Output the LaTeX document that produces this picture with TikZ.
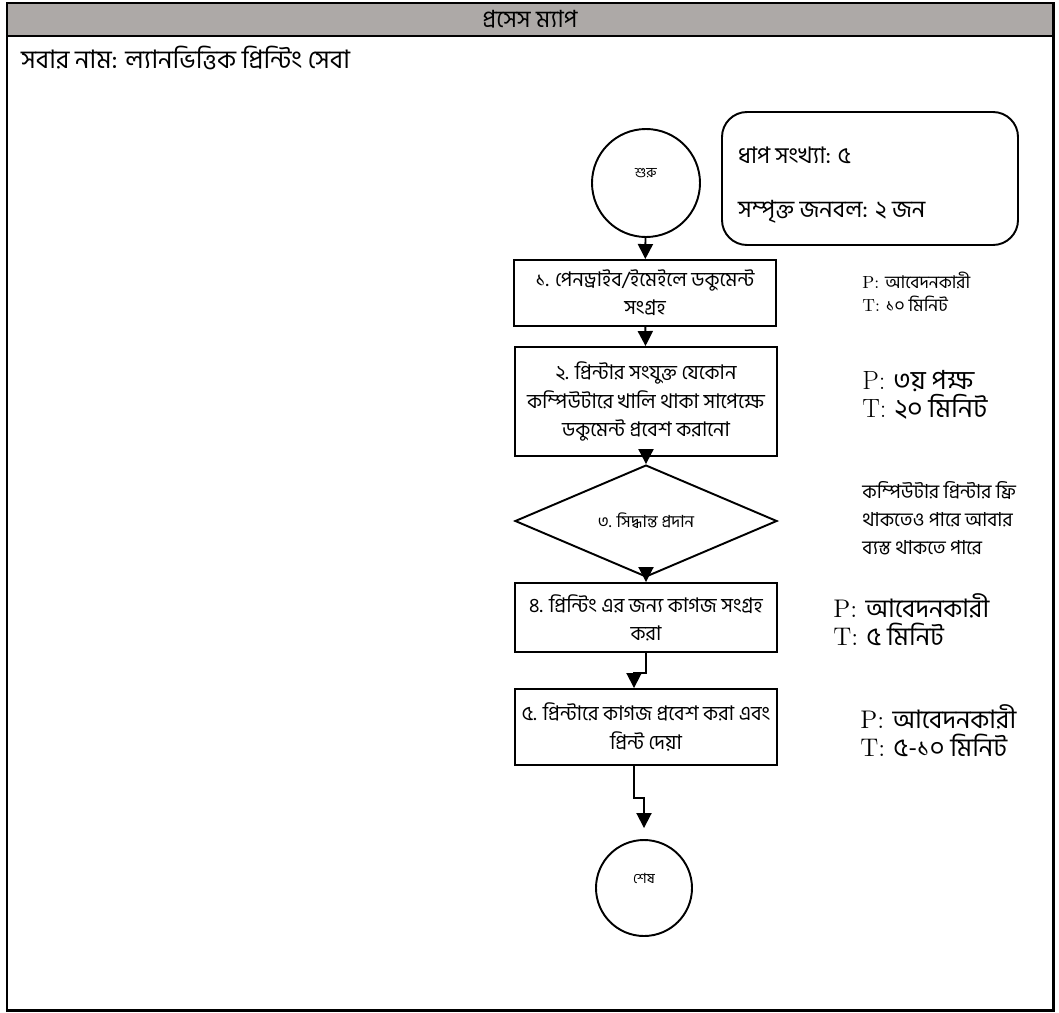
\documentclass[tikz,border=0pt]{standalone}
\usepackage{fontspec}
\newfontfamily\bn[Script=Bengali]{Hind Siliguri}
\usetikzlibrary{shapes.geometric,arrows.meta}
\definecolor{headgray}{HTML}{ADA9A7}
\tikzset{
  stepbox/.style={draw,line width=1.1pt,minimum width=5.24cm,align=center,
    font=\bn\fontsize{11.5}{16}\selectfont},
  endpt/.style={draw,circle,line width=1.1pt,inner sep=0pt,text depth=0.4cm,
    font=\bn\fontsize{8}{10}\selectfont},
  flow/.style={line width=1.1pt,-{Triangle[width=0.3cm,length=0.3cm]}},
  ptnote/.style={anchor=west,align=left,inner sep=0pt},
}
\begin{document}
\begin{tikzpicture}
\useasboundingbox (0,0) rectangle (21.18,-20.26);
% frame and header
\draw[line width=1.7pt,fill=headgray] (0.14,-0.06) rectangle (21.06,-0.72);
\draw[line width=1.7pt] (0.14,-0.06) rectangle (21.06,-20.2);
\node (head) at (10.6,-0.39) {\bn\fontsize{13.5}{15}\selectfont প্রসেস ম্যাপ};
\node[anchor=west] (serv) at (0.3,-1.16) {\bn\fontsize{14.5}{16}\selectfont সবার নাম: ল্যানভিত্তিক প্রিন্টিং সেবা};

% summary box
\draw[line width=1.1pt,rounded corners=0.5cm] (14.44,-2.24) rectangle (20.36,-4.9);
\node[anchor=west] (nstep) at (14.64,-3.1) {\bn\fontsize{13}{15}\selectfont ধাপ সংখ্যা: ৫};
\node[anchor=west] (nman) at (14.64,-4.24) {\bn\fontsize{13.5}{15}\selectfont সম্পৃক্ত জনবল: ২ জন};

% steps
\node[endpt,minimum size=2.16cm] (start) at (12.92,-3.66) {শুরু};
\node[stepbox,minimum height=1.32cm] (s1) at (12.9,-5.86) {১. পেনড্রাইব/ইমেইলে ডকুমেন্ট\\সংগ্রহ};
\node[stepbox,minimum height=2.18cm] (s2) at (12.92,-8.03) {২. প্রিন্টার সংযুক্ত যেকোন\\কম্পিউটারে খালি থাকা সাপেক্ষে\\ডকুমেন্ট প্রবেশ করানো};
\node[draw,diamond,line width=1.1pt,minimum width=5.24cm,minimum height=1.56cm,inner sep=0pt,
  font=\bn\fontsize{9.5}{11}\selectfont] (s3) at (12.92,-10.42) {৩. সিদ্ধান্ত প্রদান};
\node[stepbox,minimum height=1.38cm] (s4) at (12.92,-12.35) {৪. প্রিন্টিং এর জন্য কাগজ সংগ্রহ\\করা};
\node[stepbox,minimum height=1.52cm] (s5) at (12.92,-14.54) {৫. প্রিন্টারে কাগজ প্রবেশ করা এবং\\প্রিন্ট দেয়া};
\node[endpt,minimum size=1.92cm] (stop) at (12.88,-17.76) {শেষ};

\draw[flow] (start) -- (s1);
\draw[flow] (s1) -- (s2);
\draw[flow] (s2) -- (s3);
\draw[flow] (s3) -- (s4);
\draw[flow] (s4.south) -- ++(0,-0.4) -| ([xshift=-0.24cm]s5.north);
\draw[flow] ([xshift=-0.24cm]s5.south) -- ++(0,-0.64) -| ([yshift=0.22cm]stop.north);

% who and time
\node[ptnote,font=\fontsize{10}{13}\selectfont] (pt1) at (17.24,-5.84)
  {P: {\bn আবেদনকারী}\\T: {\bn ১০ মিনিট}};
\node[ptnote,font=\fontsize{15}{16}\selectfont] (pt2) at (17.24,-7.9)
  {P: {\bn ৩য় পক্ষ}\\T: {\bn ২০ মিনিট}};
\node[ptnote,font=\bn\fontsize{11}{16}\selectfont] (pt3) at (17.24,-10.36)
  {কম্পিউটার প্রিন্টার ফ্রি\\থাকতেও পারে আবার\\ব্যস্ত থাকতে পারে};
\node[ptnote,font=\fontsize{14.5}{16}\selectfont] (pt4) at (16.66,-12.4)
  {P: {\bn আবেদনকারী}\\T: {\bn ৫ মিনিট}};
\node[ptnote,font=\fontsize{14.5}{16}\selectfont] (pt5) at (17.2,-14.62)
  {P: {\bn আবেদনকারী}\\T: {\bn ৫-১০ মিনিট}};
\end{tikzpicture}
\end{document}
